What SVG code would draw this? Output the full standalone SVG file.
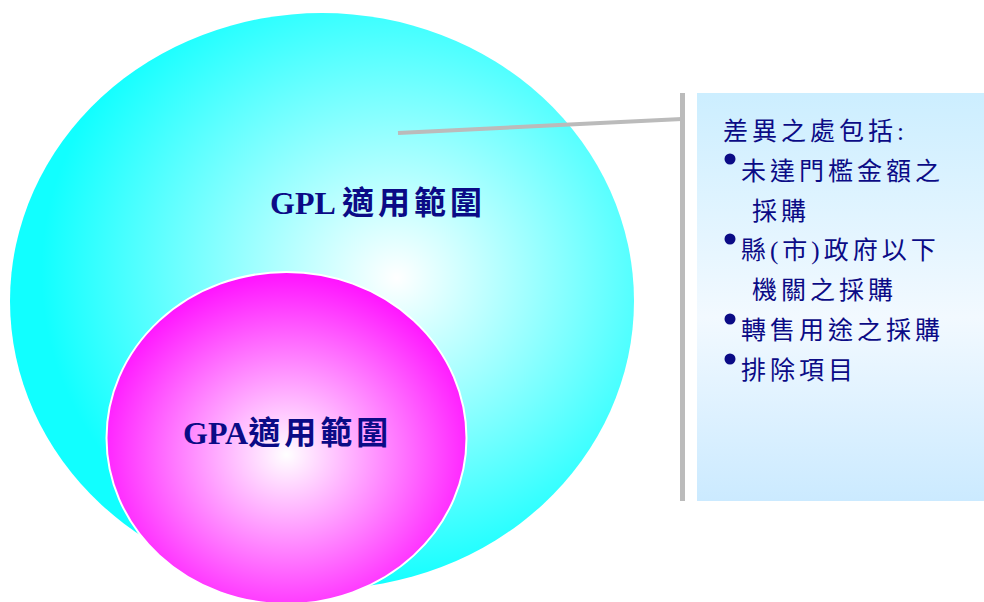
<svg xmlns="http://www.w3.org/2000/svg" width="984" height="602" viewBox="0 0 984 602">
<defs>
<radialGradient id="gCyan" cx="0.6" cy="0.45" r="0.55" fx="0.62" fy="0.46">
<stop offset="0" stop-color="#ffffff"/>
<stop offset="1" stop-color="#11ffff"/>
</radialGradient>
<radialGradient id="gMag" cx="0.5" cy="0.55" r="0.55" fx="0.5" fy="0.55">
<stop offset="0" stop-color="#ffffff"/>
<stop offset="1" stop-color="#ff11ff"/>
</radialGradient>
<linearGradient id="gPanel" x1="0" y1="0" x2="0" y2="1">
<stop offset="0" stop-color="#cceeff"/>
<stop offset="0.55" stop-color="#f2f9ff"/>
<stop offset="1" stop-color="#cbeaff"/>
</linearGradient>
<style>
.t{font-family:"Liberation Serif","Noto Sans CJK TC",serif;fill:#0b0b86;}
.big{font-size:32px;font-weight:bold;}
.p{font-size:25px;letter-spacing:4px;}
.b{fill:#0b0b86;}
</style>
</defs>
<g id="gpl">
<ellipse cx="322" cy="301" rx="312" ry="288" fill="url(#gCyan)"/>
<text class="t big" x="270" y="214">GPL <tspan letter-spacing="4">適用範圍</tspan></text>
</g>
<g id="gpa">
<ellipse cx="286.5" cy="438" rx="180" ry="166" fill="url(#gMag)" stroke="#ffffff" stroke-width="2"/>
<text class="t big" x="183" y="444">GPA<tspan letter-spacing="4">適用範圍</tspan></text>
</g>
<g id="connectors">
<line x1="398" y1="133" x2="682" y2="119" stroke="#bbbbbb" stroke-width="4"/>
<line x1="682.5" y1="93" x2="682.5" y2="501" stroke="#bbbbbb" stroke-width="5"/>
</g>
<g id="panel">
<rect x="697" y="93" width="287" height="408" fill="url(#gPanel)"/>
<text class="t p" x="723" y="140">差異之處包括:</text>
<circle class="b" cx="730" cy="159" r="5.5"/>
<text class="t p" x="741" y="180">未達門檻金額之</text>
<text class="t p" x="752" y="220">採購</text>
<circle class="b" cx="730" cy="239" r="5.5"/>
<text class="t p" x="741" y="259">縣(市)政府以下</text>
<text class="t p" x="752" y="299">機關之採購</text>
<circle class="b" cx="730" cy="319" r="5.5"/>
<text class="t p" x="741" y="339">轉售用途之採購</text>
<circle class="b" cx="730" cy="359" r="5.5"/>
<text class="t p" x="741" y="379">排除項目</text>
</g>
</svg>
